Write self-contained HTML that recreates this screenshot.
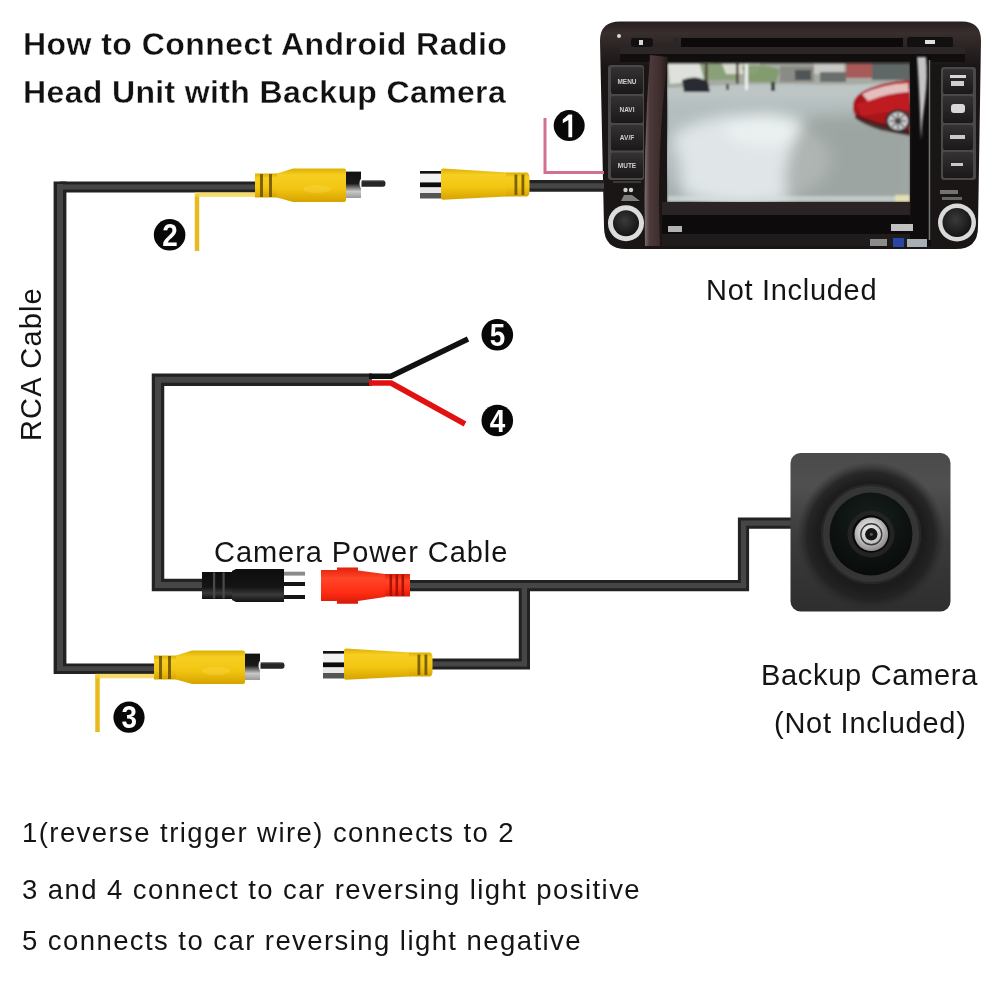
<!DOCTYPE html>
<html><head><meta charset="utf-8">
<style>
html,body{margin:0;padding:0;background:#fff;}
body{width:1000px;height:1000px;position:relative;overflow:hidden;filter:blur(0.4px);font-family:"Liberation Sans",sans-serif;color:#1a1a1a;}
.t{position:absolute;white-space:nowrap;line-height:1;}
.title{font-weight:bold;font-size:32px;letter-spacing:0.45px;color:#111;-webkit-text-stroke:0.35px #fff;}
.lbl{font-size:29px;letter-spacing:0.7px;color:#141414;}
.note{font-size:27.5px;letter-spacing:1.43px;color:#141414;}
svg{position:absolute;left:0;top:0;}
</style></head><body>
<svg width="1000" height="1000" viewBox="0 0 1000 1000">
<defs>
  <linearGradient id="gy" x1="0" y1="0" x2="0" y2="1">
    <stop offset="0" stop-color="#dcae00"/><stop offset="0.2" stop-color="#f6cf22"/>
    <stop offset="0.6" stop-color="#f3c512"/><stop offset="1" stop-color="#d6a300"/>
  </linearGradient>
  <linearGradient id="gr" x1="0" y1="0" x2="0" y2="1">
    <stop offset="0" stop-color="#e41e0a"/><stop offset="0.3" stop-color="#ff4628"/>
    <stop offset="0.7" stop-color="#ff2c12"/><stop offset="1" stop-color="#d41a08"/>
  </linearGradient>
  <linearGradient id="gk" x1="0" y1="0" x2="0" y2="1">
    <stop offset="0" stop-color="#0e0e0e"/><stop offset="0.55" stop-color="#141414"/>
    <stop offset="0.78" stop-color="#3a3a3a"/><stop offset="1" stop-color="#101010"/>
  </linearGradient>
  <linearGradient id="gm" x1="0" y1="0" x2="0" y2="1">
    <stop offset="0" stop-color="#111"/><stop offset="0.45" stop-color="#1a1a1a"/>
    <stop offset="0.75" stop-color="#c8c8c8"/><stop offset="1" stop-color="#9a9a9a"/>
  </linearGradient>
  <g id="maleRCA">
    <path d="M0 -11.5 H23 V12.5 H0 Z" fill="url(#gy)"/>
    <rect x="5" y="-11" width="3" height="23" fill="#6a5000" opacity="0.85"/>
    <rect x="14" y="-11" width="3" height="23" fill="#6a5000" opacity="0.85"/>
    <path d="M22 -11.5 L38 -16.6 H89 Q91 -16.6 91 -14.6 V15 Q91 17 89 17 H38 L22 12.5 Z" fill="url(#gy)"/>
    <ellipse cx="62" cy="4" rx="14" ry="4" fill="#f8da50" opacity="0.35"/>
    <rect x="91" y="-13.4" width="15" height="26.4" fill="url(#gm)"/>
    
    <path d="M106.5 -4.6 H128 Q130.5 -4.6 130.5 -1.4 Q130.5 1.8 128 1.8 H105 Z" fill="#262626"/><rect x="106" y="-4.6" width="23" height="1.2" fill="#5a5a5a" opacity="0.6"/><path d="M106.5 -7.5 Q102.5 -1.4 106.5 4.5 Z" fill="#f4f4f4"/>
  </g>
  <g id="femaleRCA">
    <rect x="0" y="-13.5" width="22" height="2.8" fill="#111"/>
    <rect x="0" y="-10.7" width="22" height="8.6" fill="#f2f2f2"/>
    <rect x="0" y="-2.1" width="22" height="5" fill="#0c0c0c"/>
    <rect x="0" y="2.9" width="22" height="5.6" fill="#e8e8e8"/>
    <rect x="0" y="8.5" width="22" height="5.5" fill="#555"/>
    <path d="M23 -16 Q21 -16 21 -14 V13.2 Q21 15.2 23 15.2 L87 12 V-12 Z" fill="url(#gy)"/>
    <path d="M86 -12 H107 Q109.5 -11 109.5 -7 V7 Q109.5 11 107 12 H86 Z" fill="url(#gy)"/>
    <rect x="94.5" y="-10" width="2.8" height="20.5" fill="#6a5000" opacity="0.85"/>
    <rect x="101.5" y="-10" width="2.8" height="20.5" fill="#6a5000" opacity="0.85"/>
  </g>
</defs>
<!-- head unit -->
<g id="headunit">
  <defs>
    <linearGradient id="huBody" x1="0" y1="0" x2="0" y2="1">
      <stop offset="0" stop-color="#272020"/><stop offset="0.05" stop-color="#382e2e"/>
      <stop offset="0.12" stop-color="#2a2222"/><stop offset="0.2" stop-color="#1a1515"/><stop offset="1" stop-color="#1a1616"/>
    </linearGradient>
    <linearGradient id="scrG" x1="0" y1="0" x2="0" y2="1">
      <stop offset="0" stop-color="#b2b8b8"/><stop offset="0.4" stop-color="#c2caca"/>
      <stop offset="0.75" stop-color="#c8d0d0"/><stop offset="1" stop-color="#c0c8c8"/>
    </linearGradient>
    <radialGradient id="scrLight" cx="0.5" cy="0.5" r="0.5">
      <stop offset="0" stop-color="#eef2f2" stop-opacity="0.95"/><stop offset="1" stop-color="#e8eeee" stop-opacity="0"/>
    </radialGradient>
    <linearGradient id="trimL" x1="0" y1="0" x2="1" y2="0">
      <stop offset="0" stop-color="#7e7272"/><stop offset="0.2" stop-color="#4e3a3a"/>
      <stop offset="0.7" stop-color="#3e2c2c"/><stop offset="1" stop-color="#221a1a"/>
    </linearGradient>
    <linearGradient id="btnG" x1="0" y1="0" x2="0" y2="1">
      <stop offset="0" stop-color="#343232"/><stop offset="1" stop-color="#1a1818"/>
    </linearGradient>
    <radialGradient id="knobG" cx="0.45" cy="0.4" r="0.6">
      <stop offset="0" stop-color="#3a3a3a"/><stop offset="1" stop-color="#141414"/>
    </radialGradient>
  </defs>
  <path d="M620 21.5 H962 Q981 21.5 981 40.5 L978 227 Q978 249 956 249 H626 Q604 249 604 227 L600 40.5 Q600 21.5 620 21.5 Z" fill="url(#huBody)"/>
  <!-- top slot -->
  <rect x="681" y="38" width="222" height="9" fill="#0c0a0a"/>
  <rect x="631" y="38" width="22" height="9" rx="3" fill="#121010"/>
  <rect x="639" y="40" width="4" height="5" fill="#d8d8d8"/>
  <circle cx="619" cy="36" r="2" fill="#d8d8d8"/>
  <rect x="673" y="38" width="5" height="9" fill="#2a2626"/>
  <rect x="907" y="37" width="46" height="11" rx="3" fill="#121010"/>
  <rect x="925" y="40" width="10" height="4" fill="#e0e0e0"/>
  <rect x="620" y="47" width="345" height="7" fill="#2c2626"/>
  <rect x="620" y="54" width="345" height="8" fill="#110e0e"/>
  <!-- screen -->
  <clipPath id="scrClip"><rect x="667" y="61.5" width="243" height="140.5"/></clipPath>
  <filter id="scrBlur" x="-5%" y="-5%" width="110%" height="110%"><feGaussianBlur stdDeviation="1.1"/></filter><filter id="scrBlur2" x="-20%" y="-20%" width="140%" height="140%"><feGaussianBlur stdDeviation="7"/></filter>
  <g clip-path="url(#scrClip)"><g filter="url(#scrBlur)">
  <rect x="667" y="61.5" width="243" height="140.5" fill="#b4bebe"/>
  <g filter="url(#scrBlur2)">
  <ellipse cx="745" cy="160" rx="85" ry="45" fill="#e4eaec" opacity="0.9"/>
  <ellipse cx="765" cy="130" rx="40" ry="16" fill="#eef2f2" opacity="0.8"/>
  <path d="M805 118 Q850 112 916 118 V206 H790 Q775 170 805 118 Z" fill="#8e9490" opacity="0.6"/>
  <path d="M660 120 Q690 160 680 206 H660 Z" fill="#98a2a2" opacity="0.6"/>
  <rect x="660" y="86" width="260" height="10" fill="#cdd4d2" opacity="0.7"/>
  </g>
  <rect x="667" y="196" width="243" height="6" fill="#d6dede" opacity="0.6"/>
  <rect x="895" y="195" width="15" height="7" fill="#e8e0b0" opacity="0.9"/>
  <!-- top scene -->
  <rect x="667" y="61.5" width="243" height="3" fill="#201c1c"/>
  <path d="M667 64 H910 V82 Q850 86 790 84 Q730 84 667 88 Z" fill="#a6aaa2"/>
  <path d="M668 64 H700 L705 80 L670 84 Z" fill="#dfe2dc"/>
  <path d="M700 64 Q720 62 740 70 L738 80 L704 80 Z" fill="#8aa078"/>
  <path d="M722 64 H760 L756 74 L726 74 Z" fill="#d8dad0"/>
  <path d="M742 66 Q760 62 780 70 L776 82 L746 82 Z" fill="#7e9a6a" opacity="0.9"/>
  <rect x="705" y="64" width="2.5" height="20" fill="#4a3a30"/>
  <rect x="736" y="64" width="2.5" height="20" fill="#4a3a30"/>
  <rect x="780" y="66" width="34" height="16" fill="#8a8a86"/>
  <rect x="795" y="70" width="16" height="10" fill="#505454"/>
  <rect x="814" y="64" width="30" height="10" fill="#c8c8c4"/>
  <rect x="820" y="72" width="26" height="10" fill="#6a6e6c"/>
  <rect x="846" y="64" width="26" height="14" fill="#a85a58"/>
  <rect x="872" y="64" width="38" height="16" fill="#5e6866"/>
  <rect x="745" y="64" width="3" height="26" fill="#f0f0f0"/>
  <path d="M682 80 Q696 74 708 82 L710 92 L684 92 Z" fill="#2a2a32"/>
  <rect x="771" y="82" width="4" height="9" fill="#3a3a3a"/>
  <rect x="726" y="84" width="3" height="6" fill="#555"/>
  <!-- red car -->
  <path d="M853 108 Q852 98 862 92 Q880 82 910 80 V134 L896 130 Q872 124 858 118 Q853 114 853 108 Z" fill="#a8141a"/>
  <path d="M856 104 Q870 100 890 96 L910 94 V110 Q885 112 862 116 Z" fill="#c41e24" opacity="0.8"/>
  <path d="M862 94 Q882 84 908 83 L909 92 Q888 93 868 101 Z" fill="#f0dcdc" opacity="0.85"/>
  <path d="M855 114 Q872 122 900 128 L910 130 V136 L880 130 Q862 124 855 118 Z" fill="#3a1414" opacity="0.8"/>
  <ellipse cx="898" cy="121" rx="12.5" ry="11.5" fill="#2a2a2a"/>
  <ellipse cx="898" cy="121" rx="10" ry="9" fill="#d0d0d0"/>
  <path d="M898 113 V129 M890 121 H906 M892 115 L904 127 M904 115 L892 127" stroke="#555" stroke-width="1.5"/>
  <ellipse cx="898" cy="121" rx="3" ry="3" fill="#444"/>
  </g></g>
  <!-- trims -->
  <path d="M650 55 Q643 150 645 246 H660 Q656 150 668 57 Z" fill="url(#trimL)"/>
  <path d="M910 54 Q913 150 910 246 H931 Q931 150 931 54 Z" fill="#0e0c0c"/>
  <path d="M917 57 H926 Q928 75 925 100 Q922 120 921 140 Q920 110 919 90 Q918 70 917 57 Z" fill="#d8d8d8" opacity="0.9" filter="url(#scrBlur)"/>
  <path d="M929.5 60 V240" stroke="#8a8a8a" stroke-width="1.6" fill="none" opacity="0.8"/>
  <!-- bottom section -->
  <rect x="662" y="202" width="248" height="13" fill="#2a2424"/>
  <rect x="662" y="215" width="248" height="19" fill="#0d0b0b"/>
  <rect x="662" y="234" width="248" height="12" fill="#201c1c"/>
  <rect x="668" y="226" width="14" height="6" fill="#d0d0d0" opacity="0.85"/>
  <rect x="891" y="224" width="22" height="7" fill="#e0e0e0" opacity="0.85"/>
  <rect x="870" y="239" width="17" height="7" fill="#8c8c8c"/>
  <rect x="893" y="238" width="11" height="9" fill="#2846a8"/>
  <rect x="907" y="239" width="20" height="8" fill="#a8aeb6"/>
  <!-- left buttons -->
  <g>
    <rect x="608" y="65" width="36" height="115" rx="3" fill="#4a4848"/>
    <rect x="611" y="67" width="32" height="27" rx="2" fill="url(#btnG)"/>
    <rect x="611" y="96" width="32" height="27" rx="2" fill="url(#btnG)"/>
    <rect x="611" y="125" width="32" height="25.5" rx="2" fill="url(#btnG)"/>
    <rect x="611" y="152.5" width="32" height="25.5" rx="2" fill="url(#btnG)"/>
    <text x="627" y="84" font-size="6.5" font-weight="bold" fill="#d0d0d0" text-anchor="middle" font-family="Liberation Sans">MENU</text>
    <text x="627" y="112" font-size="6.5" font-weight="bold" fill="#d0d0d0" text-anchor="middle" font-family="Liberation Sans">NAVI</text>
    <text x="627" y="140" font-size="6.5" font-weight="bold" fill="#d0d0d0" text-anchor="middle" font-family="Liberation Sans">AV/F</text>
    <text x="627" y="168" font-size="6.5" font-weight="bold" fill="#d0d0d0" text-anchor="middle" font-family="Liberation Sans">MUTE</text>
    <rect x="613" y="181" width="28" height="2" fill="#3a3838"/>
    <circle cx="625.5" cy="190" r="2.2" fill="#d0d0d0"/>
    <circle cx="631" cy="190" r="2.2" fill="#d0d0d0"/>
    <path d="M621 201 L624 195 H632 L640 201 Z" fill="#9a9a9a" opacity="0.8"/>
  </g>
  <!-- right buttons -->
  <g>
    <rect x="941" y="67" width="35" height="113" rx="3" fill="#4a4848"/>
    <rect x="943" y="69" width="30" height="25" rx="2" fill="url(#btnG)"/>
    <rect x="943" y="96" width="30" height="27" rx="2" fill="url(#btnG)"/>
    <rect x="943" y="125" width="30" height="25" rx="2" fill="url(#btnG)"/>
    <rect x="943" y="152" width="30" height="26" rx="2" fill="url(#btnG)"/>
    <rect x="950" y="75" width="16" height="3" fill="#d8d8d8"/>
    <rect x="951" y="81" width="13" height="5" fill="#cfcfcf"/>
    <rect x="951" y="104" width="14" height="9" rx="3" fill="#d8d8d8"/>
    <rect x="950" y="135" width="15" height="4" fill="#c8c8c8"/>
    <rect x="951" y="163" width="12" height="3" fill="#c8c8c8"/>
    <rect x="940" y="190" width="18" height="4" fill="#9a9a9a" opacity="0.7"/>
    <rect x="942" y="197" width="20" height="3" fill="#9a9a9a" opacity="0.6"/>
  </g>
  <!-- knobs -->
  <circle cx="626" cy="223.2" r="18" fill="#dcdcdc"/>
  <circle cx="626" cy="223.2" r="13" fill="url(#knobG)"/>
  <circle cx="957" cy="222.5" r="19" fill="#dadada"/>
  <circle cx="957" cy="222.5" r="14.5" fill="url(#knobG)"/>
</g>
<!-- cables -->
<g id="cables" fill="none" stroke-linecap="butt" stroke-linejoin="miter">
  <g stroke="#222">
    <path d="M258 187 H60" stroke-width="11"/>
    <path d="M60 181.5 V674" stroke-width="12.8"/>
    <path d="M54 668.7 H157" stroke-width="10.6"/>
    <path d="M372 379.7 H158 V585 H205" stroke-width="12.5"/>
    <path d="M408 585.6 H743.5 V523.2 H792" stroke-width="11.2"/>
    <path d="M524.4 585.6 V664 H432" stroke-width="11.2"/>
    <path d="M528 185.8 H604" stroke-width="11.8"/>
  </g>
  <g stroke="#464646">
    <path d="M258 187 H60" stroke-width="5"/>
    <path d="M60 184 V671" stroke-width="6"/>
    <path d="M57 668.7 H157" stroke-width="4.8"/>
    <path d="M372 379.7 H158 V585 H205" stroke-width="6"/>
    <path d="M408 585.6 H743.5 V523.2 H792" stroke-width="5.2"/>
    <path d="M524.4 585.6 V664 H432" stroke-width="5.2"/>
    <path d="M528 185.8 H604" stroke-width="5.2"/>
  </g>
</g>
<!-- wires -->
<g fill="none">
  <path d="M197 194 V251" stroke="#e9b91f" stroke-width="4.5"/>
  <rect x="195" y="192.3" width="62" height="4.5" fill="#f2d24a" opacity="0.8"/>
  <path d="M97.5 675 V732" stroke="#e9b91f" stroke-width="4.5"/>
  <rect x="95" y="673.8" width="62" height="4.5" fill="#f2d24a" opacity="0.8"/>
  <path d="M545 118 V172.5 H604" stroke="#d26f92" stroke-width="3"/>
  <path d="M369 376.2 H391 L468 339" stroke="#111" stroke-width="5.5" stroke-linejoin="round"/>
  <path d="M369 383 H391 L465 424" stroke="#e21010" stroke-width="5.5" stroke-linejoin="round"/>
</g>
<!-- connectors -->
<use href="#maleRCA" x="255" y="185"/>
<use href="#femaleRCA" x="420" y="184.5"/>
<use href="#maleRCA" x="154" y="667"/>
<use href="#femaleRCA" x="323" y="664.5"/>
<g id="dcmale">
  <rect x="202" y="572" width="32" height="27" fill="url(#gk)"/>
  <rect x="213" y="572.5" width="2.2" height="26" fill="#4a4a4a"/>
  <rect x="222.5" y="572.5" width="2.2" height="26" fill="#4a4a4a"/>
  <path d="M232 571 L236 569 H284 V602 H236 L232 600 Z" fill="url(#gk)"/>
  <rect x="284" y="571.7" width="21" height="3.9" fill="#8a8a8a"/>
  <rect x="284" y="582" width="21" height="4" fill="#151515"/>
  <rect x="284" y="595" width="21" height="4" fill="#151515"/>
</g>
<g id="dcfemale">
  <path d="M321 570 H337 V567.4 H358 V570.5 L385 574 V597 L358 601 V603.8 H337 V601 H321 Z" fill="url(#gr)"/>
  <rect x="385" y="574" width="25" height="22.5" fill="url(#gr)"/>
  <rect x="389.5" y="574.5" width="2.6" height="21.5" fill="#a50d04" opacity="0.9"/>
  <rect x="395.5" y="574.5" width="2.6" height="21.5" fill="#a50d04" opacity="0.9"/>
  <rect x="401.5" y="574.5" width="2.6" height="21.5" fill="#a50d04" opacity="0.9"/>
</g>
<!-- camera -->
<g id="camera">
  <defs>
    <linearGradient id="camBody" x1="0" y1="0" x2="0" y2="1">
      <stop offset="0" stop-color="#4a4a4a"/><stop offset="0.2" stop-color="#505050"/>
      <stop offset="0.55" stop-color="#3a3a3a"/><stop offset="1" stop-color="#2e2e2e"/>
    </linearGradient>
    <radialGradient id="camDome" cx="0.5" cy="0.5" r="0.5">
      <stop offset="0" stop-color="#1a1a1a"/><stop offset="0.72" stop-color="#1c1c1c"/>
      <stop offset="0.86" stop-color="#202020" stop-opacity="0.85"/><stop offset="1" stop-color="#2a2a2a" stop-opacity="0"/>
    </radialGradient>
    <radialGradient id="lensG" cx="0.5" cy="0.35" r="0.65">
      <stop offset="0" stop-color="#16211d"/><stop offset="1" stop-color="#090b0b"/>
    </radialGradient>
    <radialGradient id="silverG" cx="0.45" cy="0.4" r="0.6">
      <stop offset="0" stop-color="#f2f2f2"/><stop offset="0.55" stop-color="#c8c8c8"/><stop offset="1" stop-color="#8a8a8a"/>
    </radialGradient>
    <clipPath id="camClip"><rect x="790.5" y="453" width="160" height="158.5" rx="10"/></clipPath>
  </defs>
  <g clip-path="url(#camClip)">
    <rect x="790" y="453" width="161" height="159" fill="url(#camBody)"/>
    <circle cx="871" cy="536" r="74" fill="url(#camDome)"/>
    <circle cx="871" cy="534" r="50" fill="#353535"/>
    <circle cx="871" cy="534" r="49" fill="none" stroke="#262626" stroke-width="2"/>
    <circle cx="871" cy="534" r="41.5" fill="url(#lensG)"/>
    <circle cx="871" cy="534" r="23.5" fill="#232323"/>
    <circle cx="871" cy="534" r="18.8" fill="#080808"/>
    <circle cx="871.3" cy="534.3" r="16.8" fill="url(#silverG)"/>
    <circle cx="871.3" cy="534.3" r="10.5" fill="none" stroke="#3a3a3a" stroke-width="1.4"/>
    <circle cx="871.3" cy="534.3" r="6.2" fill="#141414"/>
    <circle cx="871.3" cy="534.3" r="1.6" fill="#555"/>
  </g>
</g>
<!-- number badges -->
<g font-family="Liberation Sans" font-weight="bold" font-size="31" fill="#fff" text-anchor="middle">
  <circle cx="569.2" cy="125.6" r="15.5" fill="#080808"/><path d="M568.4 137.2 V114.4 H572.2 V137.2 Z M568.6 114.4 L571 114.4 L571 118.4 L562.8 123.2 V119.4 Z" fill="#fff"/>
  <circle cx="169.6" cy="234.8" r="15.8" fill="#080808"/><text x="169.9" y="246" textLength="15.5" lengthAdjust="spacingAndGlyphs">2</text>
  <circle cx="129" cy="717.2" r="15.6" fill="#080808"/><text x="129.3" y="728.4" textLength="15.5" lengthAdjust="spacingAndGlyphs">3</text>
  <circle cx="497.3" cy="420.5" r="15.8" fill="#080808"/><text x="497.6" y="431.7" textLength="15.5" lengthAdjust="spacingAndGlyphs">4</text>
  <circle cx="497.3" cy="334.8" r="15.8" fill="#080808"/><text x="497.6" y="346" textLength="15.5" lengthAdjust="spacingAndGlyphs">5</text>
</g>
</svg>
<div class="t title" style="left:23px;top:28px">How to Connect Android Radio</div>
<div class="t title" style="left:23px;top:76px;letter-spacing:0.36px">Head Unit with Backup Camera</div>
<div class="t lbl" style="left:706px;top:276px">Not Included</div>
<div class="t lbl" style="left:214px;top:538px;letter-spacing:0.95px">Camera Power Cable</div>
<div class="t lbl" style="left:761px;top:661px">Backup Camera</div>
<div class="t lbl" style="left:774px;top:709px;letter-spacing:0.75px">(Not Included)</div>
<div class="t lbl" style="left:17px;top:441px;letter-spacing:1.15px;transform-origin:0 0;transform:rotate(-90deg)">RCA Cable</div>
<div class="t note" style="left:22px;top:819px">1(reverse trigger wire) connects to 2</div>
<div class="t note" style="left:22px;top:875.5px">3 and 4 connect to car reversing light positive</div>
<div class="t note" style="left:22px;top:927px">5 connects to car reversing light negative</div>
</body></html>
